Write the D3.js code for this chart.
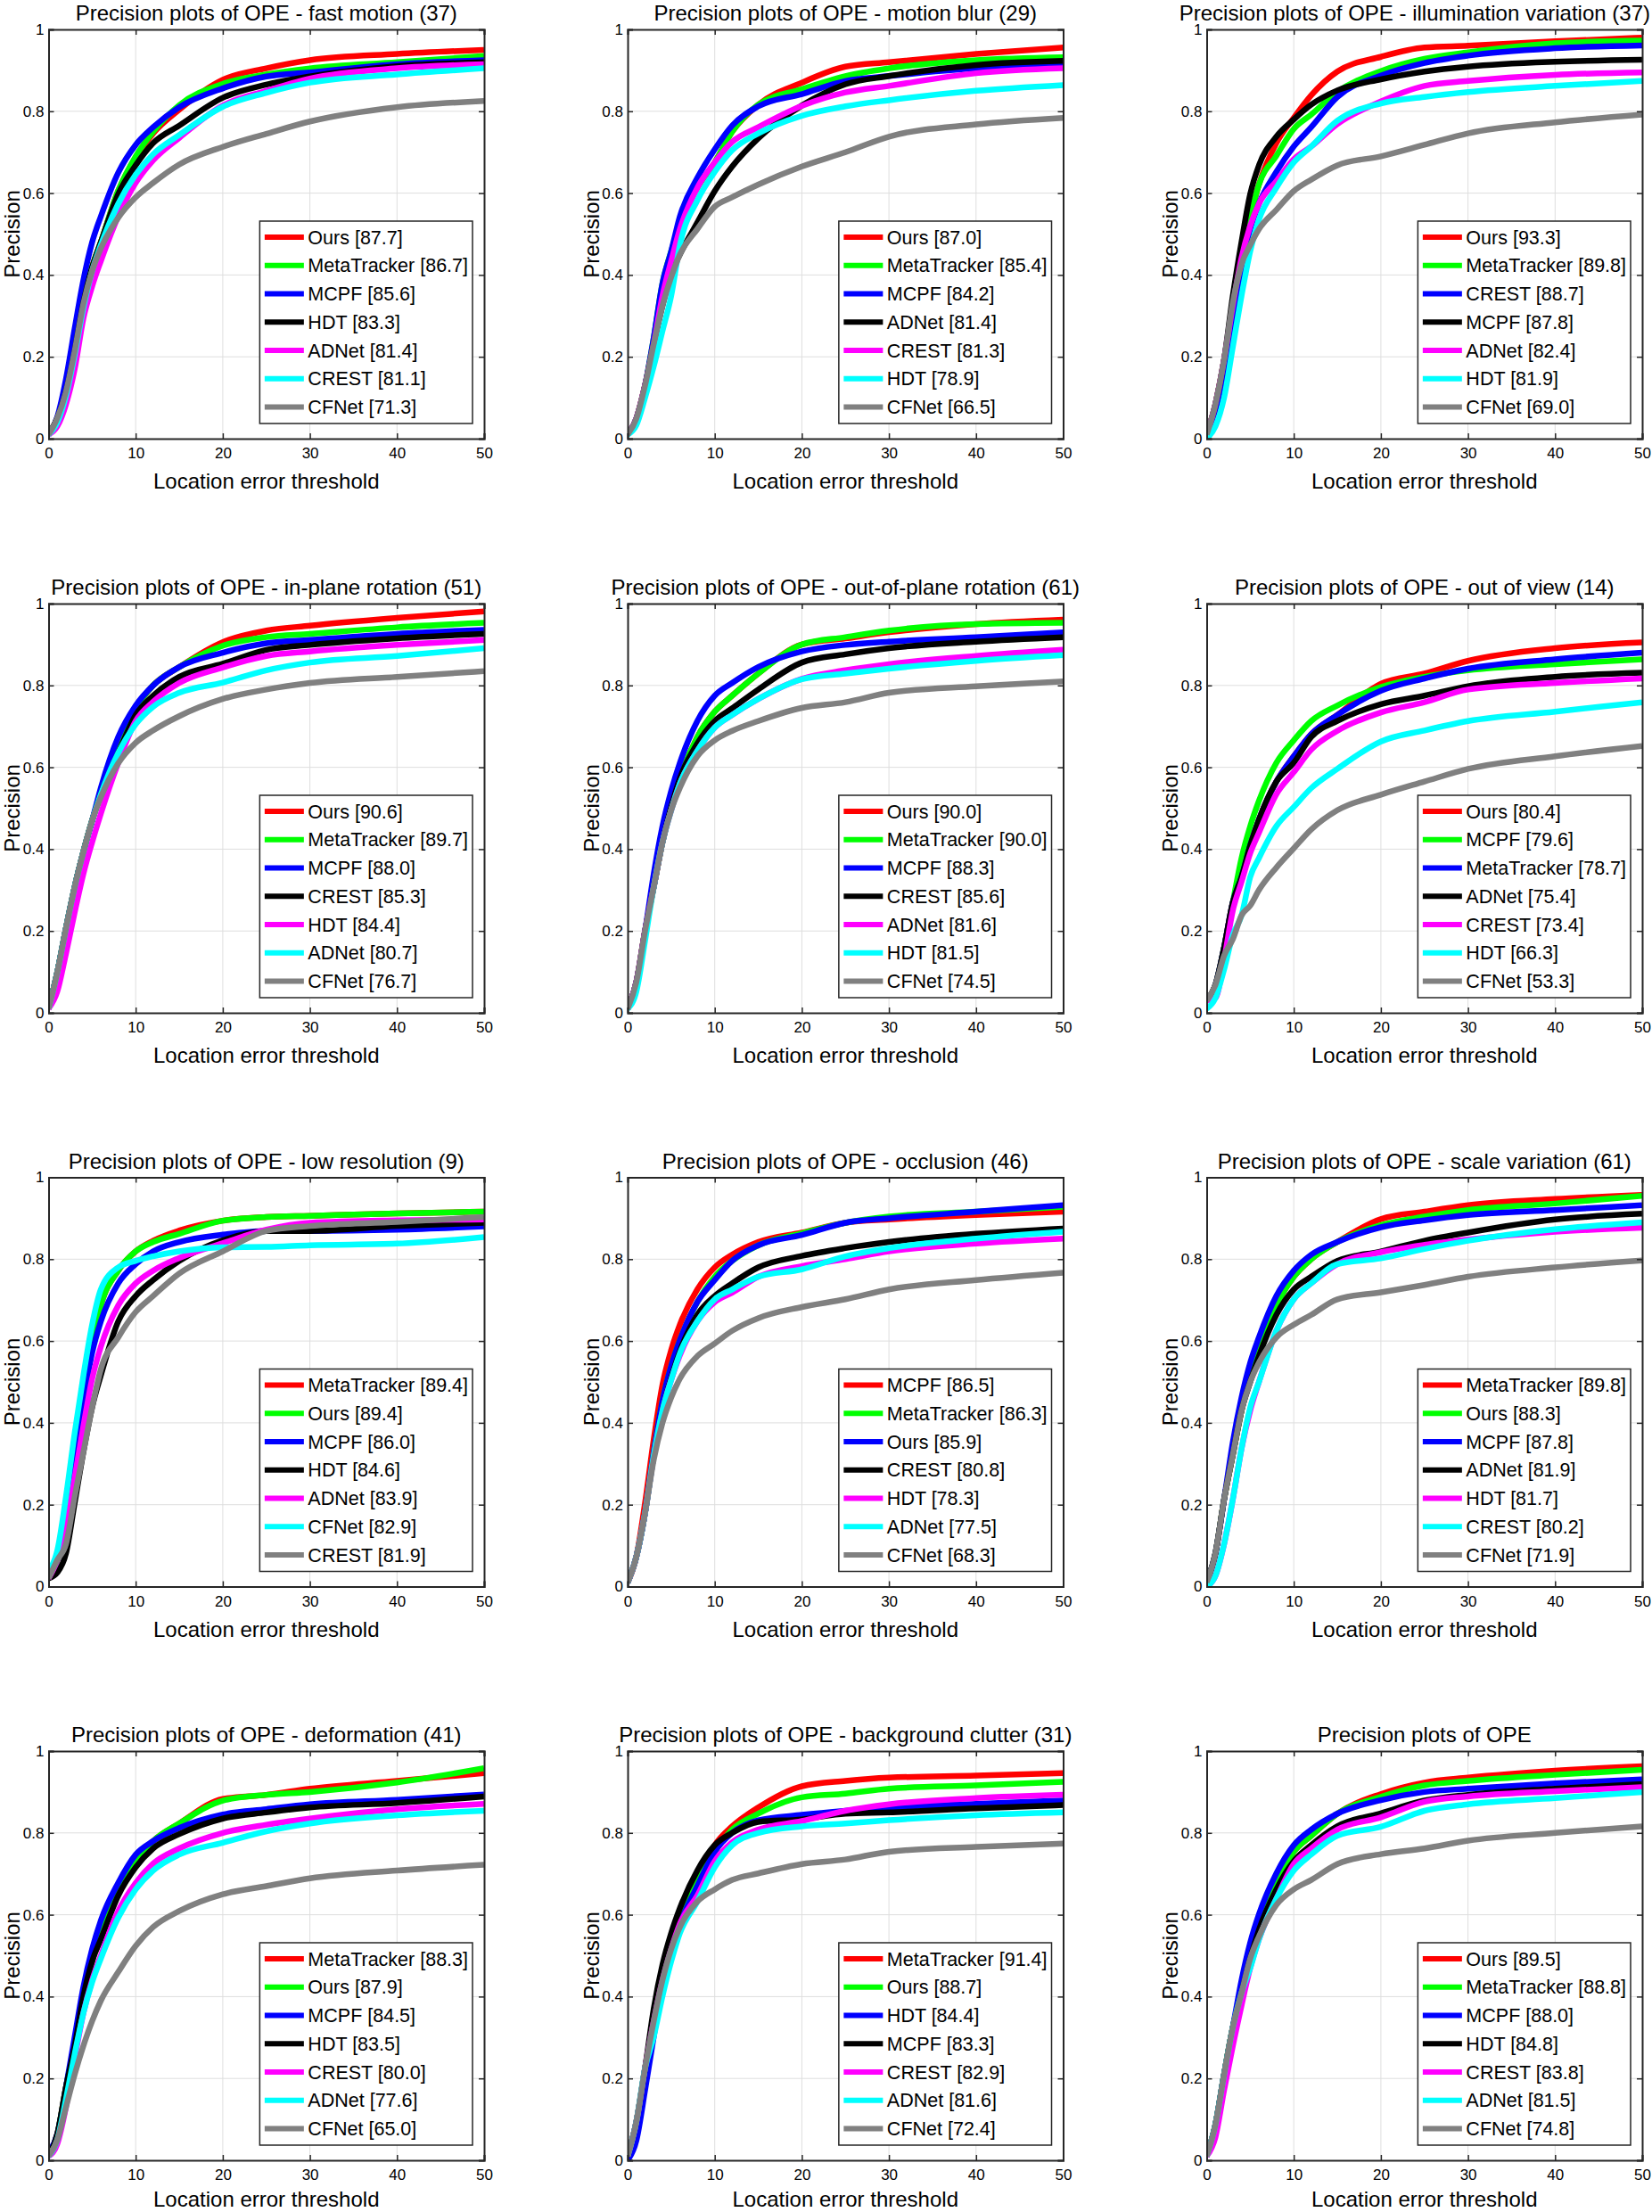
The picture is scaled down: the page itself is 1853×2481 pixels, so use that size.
<!DOCTYPE html>
<html>
<head>
<meta charset="utf-8">
<script src="https://cdn.jsdelivr.net/npm/d3@7"></script>
<style>
  html, body { margin: 0; padding: 0; background: #ffffff; }
  svg { display: block; }
  text { font-family: "Liberation Sans", Arial, Helvetica, sans-serif; fill: #000; }
</style>
</head>
<body>
<svg id="chart" width="1853" height="2481"></svg>
<script>
// ---------------- DATA ----------------
const thresholds = [0, 1, 2, 3, 4, 5, 6, 8, 10, 12, 15, 20, 25, 30, 40, 50];
const xTicks = [0, 10, 20, 30, 40, 50];
const yTicks = [0, 0.2, 0.4, 0.6, 0.8, 1];
const yTickLabels = ["0", "0.2", "0.4", "0.6", "0.8", "1"];
const seriesColors = ["#ff0000", "#00ff00", "#0000ff", "#000000", "#ff00ff", "#00ffff", "#808080"];

const titles = [
  "Precision plots of OPE - fast motion (37)",
  "Precision plots of OPE - motion blur (29)",
  "Precision plots of OPE - illumination variation (37)",
  "Precision plots of OPE - in-plane rotation (51)",
  "Precision plots of OPE - out-of-plane rotation (61)",
  "Precision plots of OPE - out of view (14)",
  "Precision plots of OPE - low resolution (9)",
  "Precision plots of OPE - occlusion (46)",
  "Precision plots of OPE - scale variation (61)",
  "Precision plots of OPE - deformation (41)",
  "Precision plots of OPE - background clutter (31)",
  "Precision plots of OPE"
];

// fast motion
const fmNames = ["Ours", "MetaTracker", "MCPF", "HDT", "ADNet", "CREST", "CFNet"];
const fmScores = [87.7, 86.7, 85.6, 83.3, 81.4, 81.1, 71.3];
const fmCurves = [
  [.01,.05,.115,.215,.333,.419,.48,.606,.687,.746,.804,.877,.905,.925,.94,.95],
  [.01,.05,.115,.215,.333,.419,.48,.606,.69,.75,.815,.867,.89,.905,.92,.935],
  [.01,.053,.146,.27,.388,.48,.543,.65,.718,.761,.81,.856,.885,.895,.915,.925],
  [.01,.05,.115,.215,.333,.419,.48,.598,.668,.722,.765,.833,.865,.885,.91,.92],
  [.01,.03,.084,.17,.294,.372,.434,.543,.625,.68,.735,.814,.85,.88,.905,.915],
  [.01,.04,.105,.205,.32,.41,.473,.574,.645,.695,.742,.811,.845,.87,.89,.905],
  [.01,.05,.115,.215,.33,.41,.465,.54,.59,.625,.67,.713,.745,.775,.81,.825]
];

// motion blur
const mbNames = ["Ours", "MetaTracker", "MCPF", "ADNet", "CREST", "HDT", "CFNet"];
const mbScores = [87.0, 85.4, 84.2, 81.4, 81.3, 78.9, 66.5];
const mbCurves = [
  [.01,.049,.13,.232,.349,.434,.52,.613,.675,.75,.816,.87,.909,.92,.94,.956],
  [.01,.049,.13,.247,.38,.458,.52,.613,.675,.75,.816,.854,.886,.905,.925,.932],
  [.01,.049,.13,.247,.38,.458,.543,.637,.707,.765,.812,.842,.874,.886,.905,.913],
  [.01,.049,.13,.232,.325,.403,.45,.528,.605,.665,.734,.814,.866,.886,.913,.923],
  [.01,.049,.13,.232,.349,.434,.512,.613,.675,.725,.761,.813,.846,.862,.893,.905],
  [.01,.033,.10,.177,.263,.349,.473,.582,.652,.705,.746,.789,.812,.827,.85,.864],
  [.01,.049,.13,.232,.325,.395,.45,.512,.567,.59,.621,.665,.70,.738,.768,.784]
];

// illumination variation
const ivNames = ["Ours", "MetaTracker", "CREST", "MCPF", "ADNet", "HDT", "CFNet"];
const ivScores = [93.3, 89.8, 88.7, 87.8, 82.4, 81.9, 69.0];
const ivCurves = [
  [.01,.084,.193,.325,.45,.543,.621,.722,.784,.839,.897,.933,.956,.96,.971,.98],
  [.01,.084,.193,.325,.45,.543,.621,.691,.757,.792,.847,.898,.928,.944,.966,.973],
  [.01,.07,.162,.286,.411,.512,.574,.652,.714,.761,.835,.887,.918,.936,.954,.961],
  [.01,.084,.193,.349,.481,.598,.668,.738,.78,.816,.851,.878,.897,.909,.921,.926],
  [.01,.084,.193,.325,.442,.52,.574,.629,.683,.714,.769,.824,.862,.874,.889,.895],
  [0,.03,.10,.224,.349,.458,.535,.613,.675,.714,.777,.819,.835,.847,.862,.874],
  [.01,.084,.193,.333,.426,.473,.512,.559,.605,.633,.668,.69,.718,.746,.773,.792]
];

// in-plane rotation
const iprNames = ["Ours", "MetaTracker", "MCPF", "CREST", "HDT", "ADNet", "CFNet"];
const iprScores = [90.6, 89.7, 88.0, 85.3, 84.4, 80.7, 76.7];
const iprCurves = [
  [.01,.099,.207,.308,.394,.47,.534,.658,.744,.80,.845,.906,.934,.946,.965,.981],
  [.01,.099,.207,.308,.394,.47,.534,.658,.744,.80,.845,.897,.918,.926,.942,.953],
  [.01,.099,.207,.308,.394,.47,.55,.674,.751,.80,.845,.88,.903,.911,.926,.936],
  [.01,.099,.207,.308,.394,.47,.534,.635,.728,.775,.821,.853,.887,.899,.915,.926],
  [.01,.052,.145,.246,.34,.417,.487,.611,.713,.76,.806,.844,.872,.883,.899,.911],
  [.01,.099,.207,.308,.394,.47,.534,.635,.705,.748,.782,.807,.837,.856,.872,.891],
  [.01,.099,.207,.308,.394,.47,.527,.61,.66,.69,.725,.767,.79,.806,.821,.835]
];

// out-of-plane rotation
const oprNames = ["Ours", "MetaTracker", "MCPF", "CREST", "ADNet", "HDT", "CFNet"];
const oprScores = [90.0, 90.0, 88.3, 85.6, 81.6, 81.5, 74.5];
const oprCurves = [
  [.01,.075,.2,.308,.417,.503,.573,.674,.736,.775,.829,.90,.915,.93,.95,.961],
  [.01,.075,.2,.308,.417,.503,.573,.674,.736,.775,.829,.90,.918,.934,.95,.953],
  [.01,.075,.2,.34,.456,.542,.611,.713,.775,.806,.845,.883,.899,.907,.918,.93],
  [.01,.075,.2,.308,.417,.503,.573,.658,.713,.744,.79,.856,.876,.891,.907,.918],
  [.01,.075,.2,.308,.417,.495,.56,.64,.697,.728,.767,.816,.837,.852,.872,.887],
  [.01,.052,.176,.308,.417,.495,.56,.64,.697,.728,.767,.815,.829,.841,.86,.874],
  [.01,.075,.2,.308,.417,.495,.55,.627,.666,.689,.713,.745,.759,.782,.798,.81]
];

// out of view
const ovNames = ["Ours", "MCPF", "MetaTracker", "ADNet", "CREST", "HDT", "CFNet"];
const ovScores = [80.4, 79.6, 78.7, 75.4, 73.4, 66.3, 53.3];
const ovCurves = [
  [.03,.068,.16,.27,.332,.409,.472,.565,.627,.681,.728,.804,.829,.86,.891,.905],
  [.03,.068,.16,.27,.378,.456,.518,.611,.666,.713,.751,.796,.821,.837,.852,.864],
  [.03,.068,.16,.27,.332,.409,.472,.565,.627,.681,.728,.787,.817,.841,.864,.88],
  [.03,.068,.16,.27,.332,.409,.472,.565,.611,.674,.713,.754,.775,.798,.821,.831],
  [.03,.036,.13,.25,.32,.39,.44,.534,.588,.643,.689,.734,.759,.79,.806,.817],
  [.01,.036,.106,.19,.238,.332,.378,.456,.503,.549,.596,.663,.69,.713,.736,.759],
  [.03,.068,.14,.18,.238,.262,.30,.355,.402,.448,.495,.533,.565,.596,.627,.652]
];

// low resolution
const lrNames = ["MetaTracker", "Ours", "MCPF", "HDT", "ADNet", "CFNet", "CREST"];
const lrScores = [89.4, 89.4, 86.0, 84.6, 83.9, 82.9, 81.9];
const lrCurves = [
  [.02,.065,.182,.329,.469,.594,.687,.772,.819,.845,.87,.894,.903,.906,.912,.916],
  [.02,.065,.182,.329,.469,.594,.687,.772,.819,.842,.862,.894,.903,.906,.912,.916],
  [.02,.065,.16,.30,.454,.571,.648,.741,.788,.819,.842,.86,.869,.869,.872,.88],
  [.02,.034,.081,.205,.329,.438,.516,.648,.71,.749,.796,.846,.869,.869,.881,.889],
  [.02,.065,.143,.267,.392,.508,.586,.687,.741,.772,.803,.839,.872,.889,.895,.897],
  [.04,.088,.22,.376,.516,.64,.726,.78,.796,.807,.819,.829,.83,.834,.838,.854],
  [.02,.065,.104,.22,.329,.438,.531,.609,.671,.71,.765,.819,.869,.881,.891,.903]
];

// occlusion
const occNames = ["MCPF", "MetaTracker", "Ours", "CREST", "HDT", "ADNet", "CFNet"];
const occScores = [86.5, 86.3, 85.9, 80.8, 78.3, 77.5, 68.3];
const occCurves = [
  [.01,.073,.205,.36,.493,.578,.64,.726,.78,.811,.842,.865,.889,.897,.908,.916],
  [.01,.073,.18,.329,.454,.539,.602,.695,.757,.796,.834,.863,.889,.904,.916,.928],
  [.01,.073,.18,.329,.454,.539,.602,.695,.749,.796,.834,.859,.889,.90,.916,.932],
  [.01,.073,.18,.32,.43,.51,.575,.664,.71,.741,.78,.808,.827,.842,.862,.875],
  [.01,.073,.18,.32,.43,.505,.565,.648,.695,.718,.757,.783,.80,.819,.838,.85],
  [.01,.073,.18,.32,.43,.505,.57,.648,.702,.726,.757,.775,.807,.827,.85,.867],
  [.01,.073,.18,.31,.40,.462,.508,.563,.594,.625,.656,.683,.702,.726,.749,.767]
];

// scale variation
const svNames = ["MetaTracker", "Ours", "MCPF", "ADNet", "HDT", "CREST", "CFNet"];
const svScores = [89.8, 88.3, 87.8, 81.9, 81.7, 80.2, 71.9];
const svCurves = [
  [.01,.081,.213,.322,.43,.516,.578,.687,.757,.80,.842,.898,.916,.932,.947,.957],
  [.01,.081,.213,.322,.43,.516,.578,.687,.757,.80,.842,.883,.904,.92,.936,.955],
  [.01,.081,.213,.353,.462,.547,.609,.71,.772,.811,.842,.878,.895,.908,.92,.932],
  [.01,.081,.213,.322,.43,.50,.563,.664,.726,.757,.796,.819,.845,.865,.897,.911],
  [0,.026,.104,.213,.337,.43,.50,.625,.702,.741,.788,.817,.835,.848,.867,.877],
  [0,.026,.104,.213,.337,.438,.50,.625,.702,.741,.788,.802,.825,.845,.873,.89],
  [.01,.081,.213,.322,.43,.50,.547,.609,.64,.664,.702,.719,.737,.757,.78,.797]
];

// deformation
const defNames = ["MetaTracker", "Ours", "MCPF", "HDT", "CREST", "ADNet", "CFNet"];
const defScores = [88.3, 87.9, 84.5, 83.5, 80.0, 77.6, 65.0];
const defCurves = [
  [.01,.064,.179,.279,.401,.486,.563,.662,.731,.78,.823,.883,.893,.908,.927,.946],
  [.01,.064,.179,.279,.401,.486,.563,.662,.731,.78,.823,.879,.893,.90,.923,.958],
  [.02,.064,.179,.302,.424,.516,.586,.678,.747,.78,.812,.845,.858,.87,.881,.894],
  [.01,.064,.179,.279,.401,.486,.54,.647,.716,.762,.797,.835,.85,.862,.873,.889],
  [.01,.04,.13,.25,.36,.44,.50,.609,.678,.725,.762,.80,.82,.835,.858,.871],
  [.01,.05,.15,.26,.36,.435,.493,.593,.662,.708,.747,.776,.804,.823,.843,.854],
  [.01,.05,.13,.21,.28,.34,.39,.46,.524,.57,.609,.65,.67,.689,.708,.722]
];

// background clutter
const bcNames = ["MetaTracker", "Ours", "HDT", "MCPF", "CREST", "ADNet", "CFNet"];
const bcScores = [91.4, 88.7, 84.4, 83.3, 82.9, 81.6, 72.4];
const bcCurves = [
  [.01,.094,.225,.34,.44,.516,.578,.685,.77,.816,.862,.914,.927,.935,.94,.946],
  [.01,.094,.225,.34,.44,.516,.578,.685,.754,.808,.847,.887,.896,.908,.916,.925],
  [0,.048,.171,.302,.44,.516,.578,.67,.754,.80,.831,.844,.854,.862,.871,.879],
  [.01,.094,.225,.371,.478,.555,.616,.708,.77,.80,.827,.833,.847,.85,.86,.868],
  [.01,.094,.225,.34,.44,.516,.578,.647,.731,.777,.808,.829,.854,.87,.885,.893],
  [.01,.094,.225,.302,.401,.486,.555,.632,.716,.77,.80,.816,.823,.831,.843,.85],
  [.01,.094,.225,.34,.44,.516,.57,.632,.662,.685,.701,.724,.735,.754,.766,.774]
];

// overall
const allNames = ["Ours", "MetaTracker", "MCPF", "HDT", "CREST", "ADNet", "CFNet"];
const allScores = [89.5, 88.8, 88.0, 84.8, 83.8, 81.5, 74.8];
const allCurves = [
  [.01,.087,.21,.325,.409,.493,.563,.678,.754,.793,.847,.895,.923,.935,.952,.963],
  [.01,.087,.21,.325,.409,.493,.563,.678,.754,.793,.847,.888,.916,.927,.942,.954],
  [.01,.087,.21,.325,.44,.532,.601,.701,.77,.808,.847,.88,.90,.908,.921,.931],
  [.01,.087,.21,.325,.409,.493,.563,.662,.731,.77,.816,.848,.879,.893,.908,.919],
  [.01,.056,.171,.279,.378,.47,.54,.639,.724,.762,.808,.838,.876,.889,.902,.912],
  [.01,.087,.21,.325,.409,.47,.54,.639,.708,.747,.793,.815,.854,.87,.885,.90],
  [.01,.087,.21,.325,.409,.493,.547,.624,.662,.685,.724,.748,.762,.781,.80,.816]
];

const panelNames = [fmNames, mbNames, ivNames, iprNames, oprNames, ovNames, lrNames, occNames, svNames, defNames, bcNames, allNames];
const panelScores = [fmScores, mbScores, ivScores, iprScores, oprScores, ovScores, lrScores, occScores, svScores, defScores, bcScores, allScores];
const panelCurves = [fmCurves, mbCurves, ivCurves, iprCurves, oprCurves, ovCurves, lrCurves, occCurves, svCurves, defCurves, bcCurves, allCurves];

// ---------------- LAYOUT ----------------
const plotW = 488.5, plotH = 459;
const colX = [54.5, 704, 1353.5];
const rowY = [33, 677, 1320.5, 1964];
const pageW = 1853, pageH = 2481;
const font = '"Liberation Sans", Arial, Helvetica, sans-serif';

const svg = d3.select("#chart");
const defs = svg.append("defs");

titles.forEach((title, i) => {
  const col = i % 3, row = Math.floor(i / 3);
  const x0 = colX[col], y0 = rowY[row];
  const g = svg.append("g").attr("transform", `translate(${x0},${y0})`);

  const x = d3.scaleLinear().domain([0, 50]).range([0, plotW]);
  const y = d3.scaleLinear().domain([0, 1]).range([plotH, 0]);

  g.append("rect").attr("width", plotW).attr("height", plotH).attr("fill", "#fff");

  // grid
  g.append("g").selectAll("line").data(xTicks.slice(1, -1)).join("line")
    .attr("x1", d => x(d)).attr("x2", d => x(d)).attr("y1", 0).attr("y2", plotH)
    .attr("stroke", "#dedede").attr("stroke-width", 1);
  g.append("g").selectAll("line").data(yTicks.slice(1, -1)).join("line")
    .attr("y1", d => y(d)).attr("y2", d => y(d)).attr("x1", 0).attr("x2", plotW)
    .attr("stroke", "#dedede").attr("stroke-width", 1);

  const clipId = "clip" + i;
  defs.append("clipPath").attr("id", clipId).append("rect")
    .attr("x", 0).attr("y", 0).attr("width", plotW).attr("height", plotH);

  const line = d3.line()
    .x((d, k) => x(thresholds[k]))
    .y(d => y(d))
    .curve(d3.curveMonotoneX);

  g.append("g").attr("clip-path", `url(#${clipId})`)
    .selectAll("path").data(panelCurves[i]).join("path")
    .attr("d", d => line(d))
    .attr("fill", "none")
    .attr("stroke", (d, k) => seriesColors[k])
    .attr("stroke-width", 6.5)
    .attr("stroke-linejoin", "round");

  // axes with inward ticks on all four sides
  const axB = d3.axisBottom(x).tickValues(xTicks).tickSize(-6).tickPadding(10).tickFormat(d3.format("d"));
  const axT = d3.axisTop(x).tickValues(xTicks).tickSize(-6).tickFormat("");
  const axL = d3.axisLeft(y).tickValues(yTicks).tickSize(-6).tickPadding(5).tickFormat((d, k) => yTickLabels[k]);
  const axR = d3.axisRight(y).tickValues(yTicks).tickSize(-6).tickFormat("");

  const styleAxis = sel => {
    sel.select(".domain").attr("stroke", "#262626").attr("stroke-width", 2);
    sel.selectAll(".tick line").attr("stroke", "#262626").attr("stroke-width", 1.5);
    sel.selectAll(".tick text").attr("fill", "#262626")
      .style("font-family", font).style("font-size", "17px");
  };
  g.append("g").attr("transform", `translate(0,${plotH})`).call(axB).call(styleAxis);
  g.append("g").call(axT).call(styleAxis);
  g.append("g").call(axL).call(styleAxis);
  g.append("g").attr("transform", `translate(${plotW},0)`).call(axR).call(styleAxis);

  // title (kept inside the page)
  const t = g.append("text").attr("x", plotW / 2).attr("y", -10)
    .attr("text-anchor", "middle").style("font-size", "24px").text(title);
  const tw = t.node().getComputedTextLength();
  const overflow = (x0 + plotW / 2 + tw / 2) - (pageW - 2);
  if (overflow > 0) t.attr("x", plotW / 2 - overflow);

  // x label (kept inside the page)
  const xlY = Math.min(plotH + 56, pageH - 6 - y0);
  g.append("text").attr("x", plotW / 2).attr("y", xlY)
    .attr("text-anchor", "middle").style("font-size", "24px").text("Location error threshold");

  // y label
  g.append("text").attr("transform", `translate(-32.5,${plotH / 2}) rotate(-90)`)
    .attr("text-anchor", "middle").style("font-size", "24px").text("Precision");

  // legend
  const labels = panelNames[i].map((n, k) => `${n} [${panelScores[i][k].toFixed(1)}]`);
  const lg = g.append("g");
  const spacing = 31.73;
  const texts = lg.selectAll("text").data(labels).join("text")
    .style("font-size", "21.5px")
    .text(d => d);
  let maxW = 0;
  texts.each(function () { maxW = Math.max(maxW, this.getComputedTextLength()); });
  const boxW = 54 + maxW + 5;
  const boxH = 227;
  const bx = plotW - 13 - boxW;
  const by = 215;
  lg.insert("rect", "text").attr("x", bx).attr("y", by).attr("width", boxW).attr("height", boxH)
    .attr("fill", "#fff").attr("stroke", "#262626").attr("stroke-width", 1.5);
  lg.selectAll("line").data(labels).join("line")
    .attr("x1", bx + 5.5).attr("x2", bx + 49.5)
    .attr("y1", (d, k) => by + 18 + k * spacing).attr("y2", (d, k) => by + 18 + k * spacing)
    .attr("stroke", (d, k) => seriesColors[k]).attr("stroke-width", 6);
  texts.attr("x", bx + 54).attr("y", (d, k) => by + 18 + k * spacing + 7.7);
});
</script>
</body>
</html>
